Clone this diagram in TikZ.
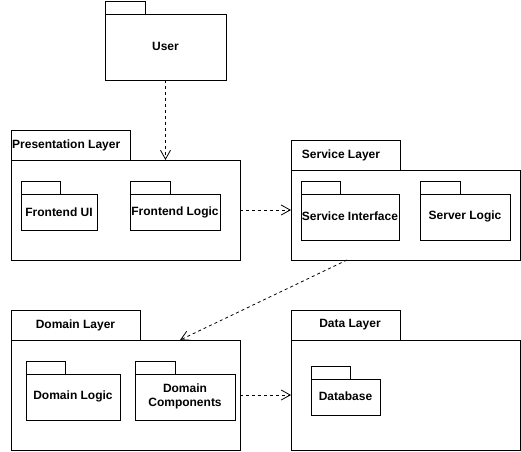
\documentclass[tikz,border=0pt]{standalone}
\usepackage{fontspec}
\setmainfont{Liberation Sans}
\usetikzlibrary{arrows.meta}
\tikzset{
  pkgbox/.style={draw, line width=1pt, inner sep=0pt, outer sep=0pt, anchor=north west},
  pkglabel/.style={font=\bfseries\fontsize{12pt}{14pt}\selectfont, inner sep=0pt, align=center},
  dep/.style={line width=0.8pt, dash pattern=on 3pt off 3pt,
    -{Straight Barb[length=9pt,width=10pt,line width=0.8pt]}}
}
% #1 name, #2 x, #3 y of body top, #4 body width, #5 body height, #6 tab width, #7 tab height
\newcommand{\umlpkg}[7]{%
  \node[pkgbox, minimum width=#4pt, minimum height=#5pt] (#1) at (#2,#3) {};
  \node[pkgbox, minimum width=#6pt, minimum height=#7pt, anchor=south west] (#1-tab) at (#1.north west) {};
}
\begin{document}
\begin{tikzpicture}[x=1pt, y=-1pt]
\useasboundingbox (0,0) rectangle (521,451);

% top-level packages
\umlpkg{user}{105}{14}{121}{66}{40}{13}
\umlpkg{pres}{11}{160}{229}{100}{119}{30}
\umlpkg{svc}{291}{170}{229}{90}{109}{30}
\umlpkg{dom}{11}{340}{229}{110}{129}{30}
\umlpkg{data}{291}{340}{229}{110}{109}{30}

% nested packages
\umlpkg{feui}{21}{194}{76}{36}{39}{13}
\umlpkg{felogic}{130}{194}{90}{36}{40}{13}
\umlpkg{svcif}{301}{194}{98}{46}{39}{13}
\umlpkg{srvlogic}{420}{194}{90}{46}{40}{13}
\umlpkg{domlogic}{26}{374}{94}{46}{39}{13}
\umlpkg{domcomp}{135}{374}{100}{46}{40}{13}
\umlpkg{db}{311}{379}{69}{36}{39}{13}

% labels
\node[pkglabel] (user-l) at (165.5,46) {User};
\node[pkglabel, anchor=west] (pres-l) at (12,145) {Presentation Layer};
\node[pkglabel] (svc-l) at (341,155) {Service Layer};
\node[pkglabel] (dom-l) at (75.5,325) {Domain Layer};
\node[pkglabel] (data-l) at (350,325) {Data Layer};
\node[pkglabel] (feui-l) at (59,212) {Frontend UI};
\node[pkglabel] (felogic-l) at (175,212) {Frontend Logic};
\node[pkglabel] (svcif-l) at (350,216) {Service Interface};
\node[pkglabel] (srvlogic-l) at (465,216) {Server Logic};
\node[pkglabel] (domlogic-l) at (73,396) {Domain Logic};
\node[pkglabel] (domcomp-l) at (185,396) {Domain\\Components};
\node[pkglabel] (db-l) at (345.5,396) {Database};

% dependencies
\draw[dep] (user.south) -- (user.south |- pres.north);
\draw[dep] (pres.east) -- (pres.east -| svc.west);
\draw[dep] ([xshift=56pt]svc.south west) -- ([xshift=169pt]dom.north west);
\draw[dep] (dom.east) -- (data.west);
\end{tikzpicture}
\end{document}
